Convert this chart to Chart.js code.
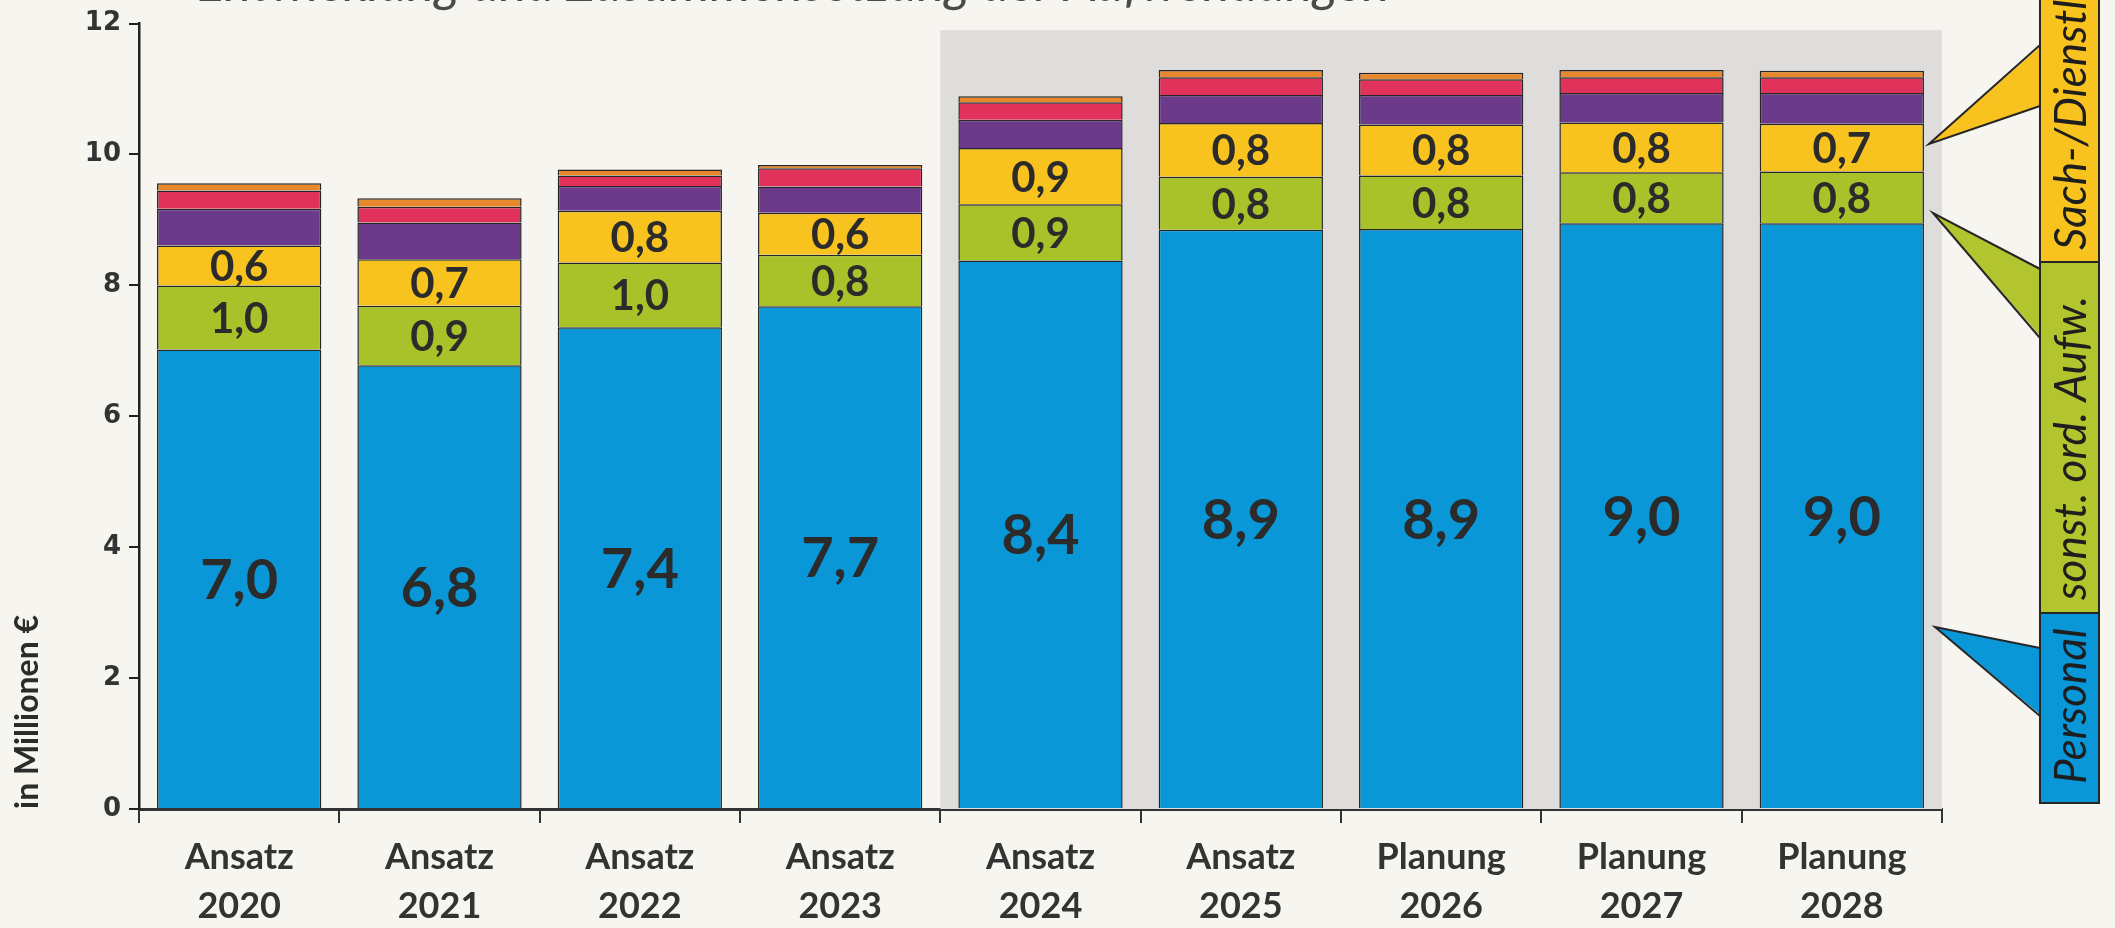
<!DOCTYPE html>
<html>
<head>
<meta charset="utf-8">
<script src="https://cdn.jsdelivr.net/npm/chart.js@4.4.0/dist/chart.umd.min.js"></script>
<style>
    body { margin: 0; background: #f7f5ef; }
    #wrap { width: 2115px; height: 928px; position: relative; }
</style>
</head>
<body>
<div id="wrap"><canvas id="chart"></canvas></div>
<script>
const categories = [
    ['Ansatz', '2020'], ['Ansatz', '2021'], ['Ansatz', '2022'], ['Ansatz', '2023'],
    ['Ansatz', '2024'], ['Ansatz', '2025'], ['Planung', '2026'], ['Planung', '2027'], ['Planung', '2028']
];
const personal   = [7.02, 6.78, 7.36, 7.68, 8.38, 8.85, 8.86, 8.95, 8.95];
const sonstOrd   = [0.98, 0.91, 0.99, 0.79, 0.86, 0.81, 0.82, 0.78, 0.79];
const sachDienst = [0.61, 0.71, 0.79, 0.64, 0.86, 0.82, 0.78, 0.76, 0.73];
const restA      = [0.56, 0.56, 0.38, 0.40, 0.43, 0.43, 0.45, 0.45, 0.47];
const restB      = [0.28, 0.24, 0.16, 0.28, 0.27, 0.27, 0.24, 0.24, 0.24];
const restC      = [0.11, 0.13, 0.09, 0.05, 0.09, 0.11, 0.10, 0.11, 0.10];
const yTicks = [0, 2, 4, 6, 8, 10, 12];

const BLUE = '#0a97d8', GREEN = '#a9c229', YELLOW = '#f8c21f',
      PURPLE = '#6c3a8a', RED = '#e0325a', ORANGE = '#e8882c';
const LINE = '#262626';

function fmt(v) {
    return (Math.round(v * 10 + 1e-6) / 10).toFixed(1).replace('.', ',');
}

// grey band behind the 2024-2028 bars
const bandPlugin = {
    id: 'band',
    beforeDatasetsDraw(chart) {
        const { ctx, chartArea, scales } = chart;
        const x = scales.x;
        const half = (x.getPixelForValue(1) - x.getPixelForValue(0)) / 2;
        const left = x.getPixelForValue(4) - half;
        const top = scales.y.getPixelForValue(11.9);
        ctx.save();
        ctx.fillStyle = '#dedddb';
        ctx.fillRect(left, top, chartArea.right - left, chartArea.bottom - top);
        ctx.restore();
    }
};

// value labels inside the three lower segments
const labelPlugin = {
    id: 'labels',
    afterDatasetsDraw(chart) {
        const { ctx } = chart;
        ctx.save();
        ctx.fillStyle = '#2b2b2b';
        ctx.textAlign = 'center';
        ctx.textBaseline = 'middle';
        [0, 1, 2].forEach(di => {
            const meta = chart.getDatasetMeta(di);
            ctx.font = di === 0 ? 'bold 56px Lato' : 'bold 42px Lato';
            meta.data.forEach((bar, i) => {
                const p = bar.getProps(['x', 'y', 'base'], true);
                ctx.fillText(fmt(chart.data.datasets[di].data[i]), p.x, (p.y + p.base) / 2 + 2);
            });
        });
        ctx.restore();
    }
};

// title (cut at the top) and the legend with pointers on the right
const decoPlugin = {
    id: 'deco',
    afterDraw(chart) {
        const { ctx } = chart;
        ctx.save();
        ctx.fillStyle = '#4a4a4a';
        ctx.font = 'italic 52px Lato';
        ctx.textAlign = 'right';
        ctx.textBaseline = 'alphabetic';
        ctx.fillText('Entwicklung und Zusammensetzung der Aufwendungen', 1390, 1);

        const bx = 2040, bw = 59;
        const boxes = [
            { c: YELLOW, top: -5, bottom: 262, text: 'Sach-/Dienstleistungen', tb: 250 },
            { c: '#b2c42e', top: 262, bottom: 613, text: 'sonst. ord. Aufw.', tb: 600 },
            { c: BLUE, top: 613, bottom: 803, text: 'Personal', tb: 784 }
        ];
        const pointers = [
            { c: YELLOW, ax: 1929, ay: 144, y1: 45, y2: 106 },
            { c: '#b2c42e', ax: 1933, ay: 213, y1: 269, y2: 338 },
            { c: BLUE, ax: 1935, ay: 627, y1: 648, y2: 716 }
        ];
        ctx.lineWidth = 2;
        ctx.strokeStyle = LINE;
        pointers.forEach(p => {
            ctx.beginPath();
            ctx.moveTo(bx + 2, p.y1);
            ctx.lineTo(p.ax, p.ay);
            ctx.lineTo(bx + 2, p.y2);
            ctx.closePath();
            ctx.fillStyle = p.c;
            ctx.fill();
            ctx.beginPath();
            ctx.moveTo(bx, p.y1);
            ctx.lineTo(p.ax, p.ay);
            ctx.lineTo(bx, p.y2);
            ctx.stroke();
        });
        boxes.forEach(b => {
            ctx.fillStyle = b.c;
            ctx.fillRect(bx, b.top, bw, b.bottom - b.top);
            ctx.strokeRect(bx, b.top, bw, b.bottom - b.top);
            ctx.save();
            ctx.translate(bx + bw / 2 + 2, b.tb);
            ctx.rotate(-Math.PI / 2);
            ctx.fillStyle = '#1e1e1e';
            ctx.font = 'italic 44px Lato';
            ctx.textAlign = 'left';
            ctx.textBaseline = 'middle';
            ctx.fillText(b.text, 0, 0);
            ctx.restore();
        });
        ctx.restore();
    }
};

function ds(label, data, color) {
    return {
        label: label,
        data: data,
        backgroundColor: color,
        borderColor: LINE,
        borderWidth: 1.5,
        barPercentage: 0.82,
        categoryPercentage: 1
    };
}

new Chart(document.getElementById('chart'), {
    type: 'bar',
    data: {
        labels: categories,
        datasets: [
            ds('Personal', personal, BLUE),
            ds('sonst. ord. Aufw.', sonstOrd, GREEN),
            ds('Sach-/Dienstleistungen', sachDienst, YELLOW),
            ds('weitere 1', restA, PURPLE),
            ds('weitere 2', restB, RED),
            ds('weitere 3', restC, ORANGE)
        ]
    },
    options: {
        responsive: true,
        maintainAspectRatio: false,
        animation: false,
        layout: { padding: { top: 23, right: 173, left: 0, bottom: 0 } },
        plugins: {
            legend: { display: false },
            tooltip: { enabled: false }
        },
        scales: {
            x: {
                stacked: true,
                afterFit(scale) { scale.height = 119; },
                border: { color: '#333', width: 3 },
                grid: { drawOnChartArea: false, offset: true, tickLength: 14, color: '#333', lineWidth: 2 },
                ticks: {
                    color: '#333',
                    padding: 10,
                    font: { family: 'Lato', weight: 'bold', size: 36, lineHeight: 1.35 }
                }
            },
            y: {
                stacked: true,
                min: 0,
                max: 12,
                afterFit(scale) { scale.width = 139; },
                afterBuildTicks(scale) { scale.ticks = yTicks.map(v => ({ value: v })); },
                border: { color: '#222', width: 2.5 },
                grid: { drawOnChartArea: false, tickLength: 10, color: '#222', lineWidth: 2 },
                ticks: {
                    color: '#333',
                    padding: 8,
                    font: { family: 'DejaVu Sans', weight: 'bold', size: 26 }
                },
                title: {
                    display: true,
                    text: 'in Millionen €',
                    align: 'start',
                    color: '#2b2b2b',
                    padding: { top: 8, bottom: 0 },
                    font: { family: 'Lato', weight: 'bold', size: 32 }
                }
            }
        }
    },
    plugins: [bandPlugin, labelPlugin, decoPlugin]
});
</script>
</body>
</html>
